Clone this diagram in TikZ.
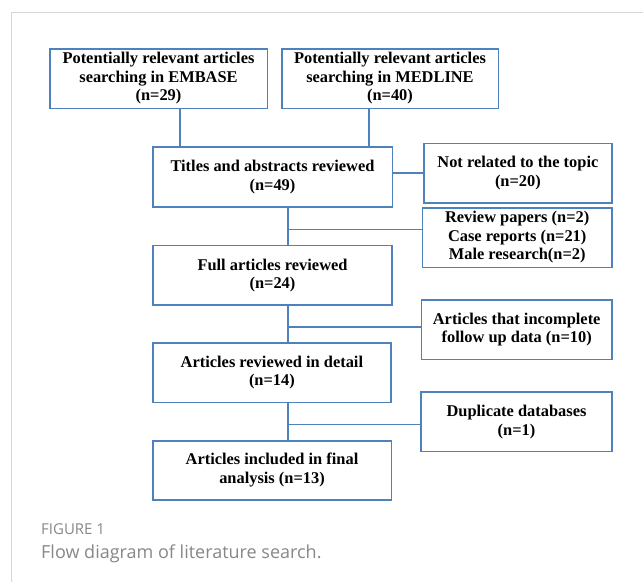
\documentclass[tikz,border=0pt]{standalone}
\usepackage{fontspec}
\setmainfont{Liberation Serif}
\newfontfamily\capfont{Open Sans}
\definecolor{boxblue}{RGB}{79,129,189}
\definecolor{framegray}{RGB}{215,215,215}
\definecolor{capgray}{RGB}{135,135,135}
\begin{document}
\begin{tikzpicture}[x=1pt,y=-1pt,
  box/.style={draw=boxblue,line width=1.6pt,fill=white,align=center,inner sep=0pt,
    font=\fontsize{16.4}{18.5}\selectfont\bfseries},
  link/.style={draw=boxblue,line width=1.4pt}]
\useasboundingbox (0,0) rectangle (643,582);
% frame
\draw[framegray,line width=1pt] (11.7,582) -- (11.7,12.7) -- (643,12.7);
% nodes
\node[box,minimum width=217.6pt,minimum height=59.6pt] (embase) at (158.5,78.5)
  {Potentially relevant articles\\searching in EMBASE\\(n=29)};
\node[box,minimum width=216.6pt,minimum height=59.6pt] (medline) at (390,78.5)
  {Potentially relevant articles\\searching in MEDLINE\\(n=40)};
\node[box,minimum width=239.6pt,minimum height=60pt] (titles) at (272.5,177)
  {Titles and abstracts reviewed\\(n=49)};
\node[box,minimum width=188.3pt,minimum height=59.4pt] (notrel) at (517.9,173)
  {Not related to the topic\\(n=20)};
\node[box,minimum width=189.7pt,minimum height=59.6pt] (review) at (517.2,237.5)
  {Review papers (n=2)\\Case reports (n=21)\\Male research(n=2)};
\node[box,minimum width=239pt,minimum height=59.3pt] (full) at (272.5,275.3)
  {Full articles reviewed\\(n=24)};
\node[box,minimum width=190.7pt,minimum height=59.3pt] (incomp) at (516.7,329.7)
  {Articles that incomplete\\follow up data (n=10)};
\node[box,minimum width=238.3pt,minimum height=59.6pt] (detail) at (271.9,372.5)
  {Articles reviewed in detail\\(n=14)};
\node[box,minimum width=191pt,minimum height=59.7pt] (dup) at (516.5,421.8)
  {Duplicate databases\\(n=1)};
\node[box,minimum width=238.6pt,minimum height=59pt] (final) at (272,470.2)
  {Articles included in final\\analysis (n=13)};
% connector coordinates
\coordinate (c1) at (180,0);
\coordinate (c2) at (369,0);
\coordinate (b1) at (288,229.3);
\coordinate (b2) at (288,327);
\coordinate (b3) at (288,424.2);
% connectors
\draw[link] (c1 |- embase.south) -- (c1 |- titles.north);
\draw[link] (c2 |- medline.south) -- (c2 |- titles.north);
\draw[link] (titles.east |- notrel.west) -- (notrel.west);
\draw[link] (b1 |- titles.south) -- (b1 |- full.north);
\draw[link] (b1) -- (b1 -| review.west);
\draw[link] (b2 |- full.south) -- (b2 |- detail.north);
\draw[link] (b2) -- (b2 -| incomp.west);
\draw[link] (b3 |- detail.south) -- (b3 |- final.north);
\draw[link] (b3) -- (b3 -| dup.west);
% caption
\node[anchor=base west,inner sep=0pt,text=capgray,font=\capfont\fontsize{15}{17}\selectfont] (figlabel) at (41,534.3) {FIGURE 1};
\node[anchor=base west,inner sep=0pt,text=capgray,font=\capfont\fontsize{18}{20}\selectfont] (figcap) at (41,558.3) {Flow diagram of literature search.};
\end{tikzpicture}
\end{document}
